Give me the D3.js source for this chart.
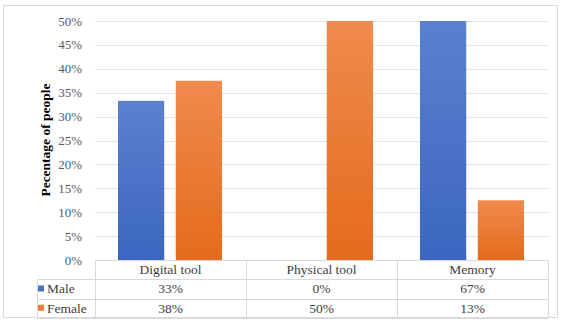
<!DOCTYPE html>
<html>
<head>
<meta charset="utf-8">
<script src="https://cdn.jsdelivr.net/npm/d3@7"></script>
<style>
  body { margin: 0; background: #fff; }
</style>
</head>
<body>
<svg id="chart" width="562" height="322" font-family="'Liberation Serif', 'Times New Roman', 'DejaVu Serif', serif"></svg>
<script>
const categories = ["Digital tool", "Physical tool", "Memory"]
const seriesNames = ["Male", "Female"]
const male = [33.3, 0, 66.7]
const female = [37.5, 50, 12.5]
const maleLabels = ["33%", "0%", "67%"]
const femaleLabels = ["38%", "50%", "13%"]
const yTicks = [0, 5, 10, 15, 20, 25, 30, 35, 40, 45, 50]

const svg = d3.select("#chart")
const plotLeft = 95, plotRight = 548, plotTop = 21, plotBottom = 260
const rowH = 19.3

// chart frame
svg.append("rect")
  .attr("x", 3.5).attr("y", 5.5).attr("width", 554).attr("height", 312)
  .attr("fill", "none").attr("stroke", "#d9d9d9")

const defs = svg.append("defs")
const grads = [["gMale", "#5a80d0", "#3c66bf"], ["gFemale", "#f08a4d", "#e46b1c"]]
grads.forEach(([id, c0, c1]) => {
  const g = defs.append("linearGradient").attr("id", id)
    .attr("x1", 0).attr("y1", 0).attr("x2", 0).attr("y2", 1)
  g.append("stop").attr("offset", "0%").attr("stop-color", c0)
  g.append("stop").attr("offset", "100%").attr("stop-color", c1)
})
const colors = { Male: "#4472c4", Female: "#ed7d31" }

const x = d3.scaleBand().domain(categories).range([plotLeft, plotRight]).paddingInner(0).paddingOuter(0)
const x1 = d3.scaleBand().domain(seriesNames).range([23, x.bandwidth() - 24]).paddingInner(0.2).paddingOuter(0)
const y = d3.scaleLinear().domain([0, 50]).range([plotBottom, plotTop])

// gridlines
svg.append("g").selectAll("line").data(yTicks.filter(d => d > 0)).join("line")
  .attr("x1", plotLeft).attr("x2", plotRight)
  .attr("y1", d => Math.round(y(d)) + 0.5).attr("y2", d => Math.round(y(d)) + 0.5)
  .attr("stroke", "#e3e3e3")

// y tick labels
svg.append("g").selectAll("text").data(yTicks).join("text")
  .attr("x", 82).attr("y", d => y(d) + 4.5)
  .attr("text-anchor", "end").attr("font-size", 13).attr("fill", "#595959")
  .text(d => d + "%")

// bars (clipped to the axis max, like the original)
defs.append("clipPath").attr("id", "plotClip")
  .append("rect").attr("x", plotLeft).attr("y", plotTop).attr("width", plotRight - plotLeft).attr("height", plotBottom - plotTop)

const rows = categories.map((c, i) => ({ c, vals: [male[i], female[i]] }))
const bars = svg.append("g").attr("clip-path", "url(#plotClip)")
bars.selectAll("g").data(rows).join("g")
  .attr("transform", d => `translate(${x(d.c)},0)`)
  .selectAll("rect").data(d => d.vals.map((v, j) => ({ s: seriesNames[j], v })))
  .join("rect")
  .attr("x", d => x1(d.s)).attr("width", x1.bandwidth())
  .attr("y", d => y(Math.min(d.v, 50))).attr("height", d => plotBottom - y(Math.min(d.v, 50)))
  .attr("fill", d => d.s === "Male" ? "url(#gMale)" : "url(#gFemale)")

// data table
const tbl = svg.append("g").attr("stroke", "#d9d9d9").attr("fill", "none")
const tLeft = 37
tbl.append("line").attr("x1", plotLeft + 0.5).attr("x2", plotLeft + 0.5).attr("y1", plotBottom).attr("y2", plotBottom + 3 * rowH)
tbl.append("line").attr("x1", tLeft + 0.5).attr("x2", tLeft + 0.5).attr("y1", plotBottom + rowH).attr("y2", plotBottom + 3 * rowH)
tbl.append("line").attr("x1", plotLeft).attr("x2", plotRight).attr("y1", plotBottom + 0.5).attr("y2", plotBottom + 0.5)
;[1, 2, 3].forEach(k => {
  tbl.append("line").attr("x1", tLeft).attr("x2", plotRight)
    .attr("y1", Math.round(plotBottom + k * rowH) + 0.5).attr("y2", Math.round(plotBottom + k * rowH) + 0.5)
})
categories.forEach(c => {
  const xr = Math.round(x(c) + x.bandwidth()) + 0.5
  tbl.append("line").attr("x1", xr).attr("x2", xr).attr("y1", plotBottom).attr("y2", plotBottom + 3 * rowH)
})

const txt = svg.append("g").attr("font-size", 13.5).attr("fill", "#404040").attr("text-anchor", "middle")
txt.selectAll("text.cat").data(categories).join("text").attr("class", "cat")
  .attr("x", d => x(d) + x.bandwidth() / 2).attr("y", plotBottom + rowH / 2 + 4.5).text(d => d)
txt.selectAll("text.m").data(maleLabels).join("text").attr("class", "m")
  .attr("x", (d, i) => x(categories[i]) + x.bandwidth() / 2).attr("y", plotBottom + rowH * 1.5 + 4.5).text(d => d)
txt.selectAll("text.f").data(femaleLabels).join("text").attr("class", "f")
  .attr("x", (d, i) => x(categories[i]) + x.bandwidth() / 2).attr("y", plotBottom + rowH * 2.5 + 4.5).text(d => d)

// legend keys in table
seriesNames.forEach((s, i) => {
  const cy = plotBottom + rowH * (i + 1.5)
  svg.append("rect").attr("x", 38).attr("y", cy - 3.5).attr("width", 6).attr("height", 6).attr("fill", colors[s])
  svg.append("text").attr("x", 47).attr("y", cy + 4.5).attr("font-size", 13.5).attr("fill", "#404040").text(s)
})

// y axis title
svg.append("text")
  .attr("transform", "translate(50,140) rotate(-90)")
  .attr("text-anchor", "middle").attr("font-size", 13.5).attr("font-weight", "bold").attr("fill", "#000")
  .text("Pecentage of people")
</script>
</body>
</html>
